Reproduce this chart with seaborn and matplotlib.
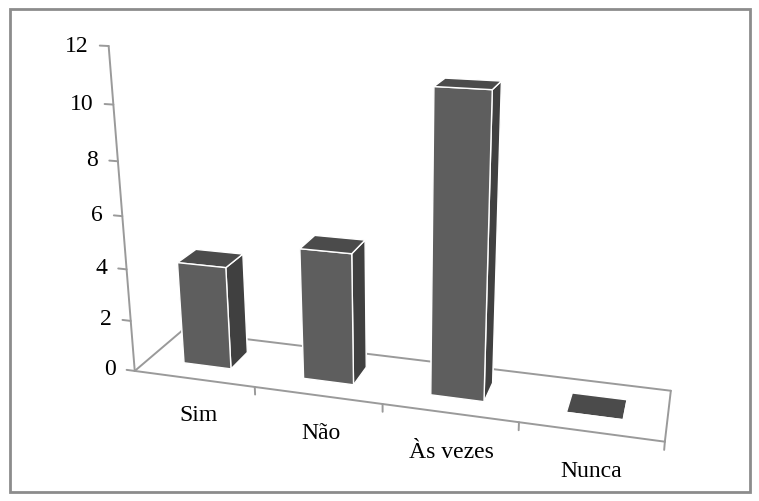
import numpy as np
import matplotlib
matplotlib.use("Agg")
import matplotlib.pyplot as plt
from matplotlib.patches import Rectangle
from mpl_toolkits.mplot3d import proj3d
import seaborn as sns

# dados
categorias = ["Sim", "Não", "Às vezes", "Nunca"]
valores = [4, 5, 11, 0]
ticks_z = [0, 2, 4, 6, 8, 10, 12]

sns.set_theme(style="white")
plt.rcParams['font.family'] = ['Liberation Serif', 'DejaVu Serif']

cor_topo = "#4b4b4b"
cor_frente = "#5e5e5e"
cor_lado = "#404040"
cor_linha = "#9a9a9a"

fig = plt.figure(figsize=(7.59, 5.02), dpi=100)
ax = fig.add_axes([-0.118, -0.104, 1.261, 1.28], projection='3d',
                  proj_type='persp', focal_length=0.32)
ax.view_init(elev=18, azim=-74)
ax.set_box_aspect((4.78, 0.95, 3.0), zoom=1.0)
ax.set_axis_off()
ax.computed_zorder = False
ax.set_xlim(0, 4)
ax.set_ylim(0, 1)
ax.set_zlim(0, 12)

n = len(categorias)
largura = 0.4
x = np.arange(n) + (1 - largura) / 2
y = np.full(n, (1 - largura) / 2)
z = np.zeros(n)
dx = np.full(n, largura)
dy = np.full(n, largura)
dz = np.array(valores, dtype=float)

# cores por face: -z, +z, -y, +y, -x, +x
faces = []
for v in valores:
    faces += [cor_topo, cor_topo, cor_frente, cor_frente, cor_lado, cor_lado]


def linha(p0, p1):
    t = np.linspace(0, 1, 40)
    xs = p0[0] + (p1[0] - p0[0]) * t
    ys = p0[1] + (p1[1] - p0[1]) * t
    zs = p0[2] + (p1[2] - p0[2]) * t
    ax.plot(xs, ys, zs, color=cor_linha, lw=1.4, zorder=1)


def texto(x3, y3, z3, s, **kw):
    # projeta o ponto 3D e põe o texto em 2D (fallback: texto 3D)
    try:
        px, py, _ = proj3d.proj_transform(np.array([x3], float), np.array([y3], float),
                                          np.array([z3], float), ax.get_proj())
        ax.text2D(float(px[0]), float(py[0]), s, transform=ax.transData, **kw)
    except Exception:
        ax.text(x3, y3, z3, s, **kw)


# piso
cantos = [(0, 0, 0), (n, 0, 0), (n, 1, 0), (0, 1, 0), (0, 0, 0)]
for a, b in zip(cantos[:-1], cantos[1:]):
    linha(a, b)
# eixo vertical + marcas
linha((0, 0, 0), (0, 0, max(ticks_z)))
for t in ticks_z:
    linha((-0.07, 0, t), (0, 0, t))
    texto(-0.16, 0, t, str(t), ha='right', va='center', fontsize=17,
          color='black', zorder=5)
# marcas das categorias
for k in range(1, n + 1):
    linha((k, 0, 0), (k, 0, -0.3))
for i, c in enumerate(categorias):
    texto(i + 0.52, 0, -1.45, c, ha='center', va='center', fontsize=17,
          color='black', zorder=5)

bars = ax.bar3d(x, y, z, dx, dy, dz, color=faces, shade=False, zorder=2)

fig.patches.append(Rectangle((10 / 759, 9 / 502), 740 / 759, 483 / 502,
                             transform=fig.transFigure, fill=False,
                             edgecolor="#8c8c8c", lw=2))

fig.savefig("out.png", dpi=100)
